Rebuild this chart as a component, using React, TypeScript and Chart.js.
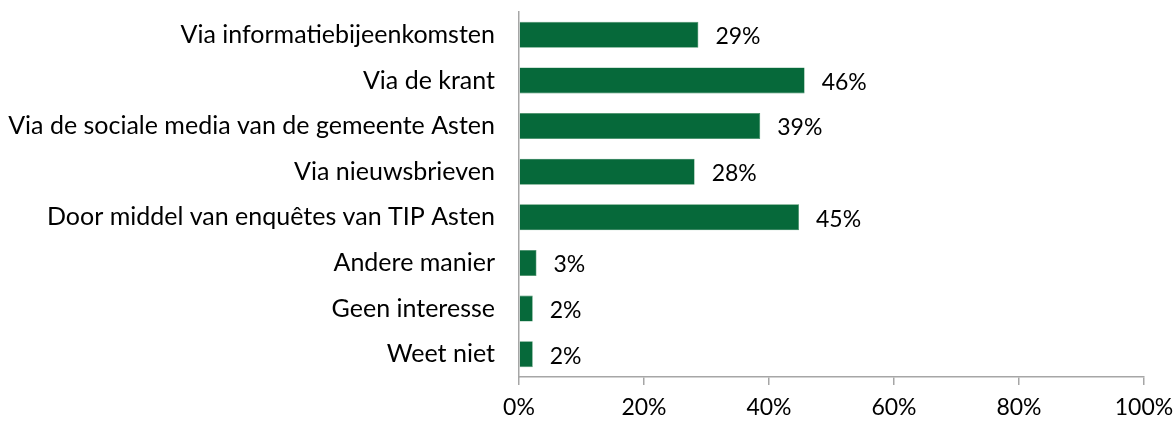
import React, { useEffect, useRef } from "react";
import { Chart, registerables } from "chart.js";

Chart.register(...registerables);

const categories = [
  "Via informatiebijeenkomsten",
  "Via de krant",
  "Via de sociale media van de gemeente Asten",
  "Via nieuwsbrieven",
  "Door middel van enquêtes van TIP Asten",
  "Andere manier",
  "Geen interesse",
  "Weet niet",
];
const values = [28.7, 45.7, 38.6, 28.1, 44.8, 2.8, 2.2, 2.2];
const valueLabels = ["29%", "46%", "39%", "28%", "45%", "3%", "2%", "2%"];
const xTicks = [0, 20, 40, 60, 80, 100];

const FONT = "Lato";
const BAR = "#06693A";
const AXIS = "#A6A6A6";

const labelPlugin = {
  id: "valueLabels",
  afterDatasetsDraw(chart: any) {
    const ctx = chart.ctx;
    const meta = chart.getDatasetMeta(0);
    ctx.save();
    ctx.font = `23px ${FONT}`;
    ctx.fillStyle = "#000";
    ctx.textAlign = "left";
    ctx.textBaseline = "middle";
    meta.data.forEach((bar: any, i: number) => {
      ctx.fillText(valueLabels[i], bar.x + 17, bar.y + 2);
    });
    ctx.restore();
  },
};

export default function App() {
  const ref = useRef<HTMLCanvasElement>(null);
  useEffect(() => {
    const prevMargin = document.body.style.margin;
    document.body.style.margin = "0";
    const chart = new Chart(ref.current!, {
      type: "bar",
      data: {
        labels: categories,
        datasets: [
          {
            data: values,
            backgroundColor: BAR,
            borderColor: "#3F8A5F",
            borderWidth: 0.6,
            barPercentage: 0.57,
            categoryPercentage: 1,
          },
        ],
      },
      options: {
        indexAxis: "y",
        animation: false,
        responsive: false,
        maintainAspectRatio: false,
        layout: { padding: { top: 12, right: 31, left: 0, bottom: 0 } },
        plugins: { legend: { display: false }, tooltip: { enabled: false } },
        scales: {
          x: {
            min: 0,
            max: 100,
            afterBuildTicks(scale: any) {
              scale.ticks = xTicks.map((v) => ({ value: v }));
            },
            afterFit(scale: any) {
              scale.height = 44;
              scale.paddingLeft = 0;
              scale.paddingRight = 0;
            },
            ticks: {
              callback: (v: any) => `${v}%`,
              color: "#000",
              font: { family: FONT, size: 23 },
              padding: 9,
              maxRotation: 0,
              autoSkip: false,
            },
            grid: {
              drawOnChartArea: false,
              drawTicks: true,
              tickLength: 8,
              color: AXIS,
              lineWidth: 1.5,
            },
            border: { color: AXIS, width: 1.5 },
          },
          y: {
            afterFit(scale: any) {
              scale.width = 519;
              scale.paddingTop = 0;
              scale.paddingBottom = 0;
            },
            ticks: {
              color: "#000",
              font: { family: FONT, size: 25 },
              padding: 24,
              autoSkip: false,
            },
            grid: { display: false, drawTicks: false },
            border: { color: AXIS, width: 1.5 },
          },
        },
      },
      plugins: [labelPlugin],
    });
    return () => {
      chart.destroy();
      document.body.style.margin = prevMargin;
    };
  }, []);
  return (
    <div style={{ position: "absolute", left: 0, top: 0, width: 1175, height: 421 }}>
      <canvas ref={ref} width={1175} height={421} style={{ width: 1175, height: 421 }} />
    </div>
  );
}
